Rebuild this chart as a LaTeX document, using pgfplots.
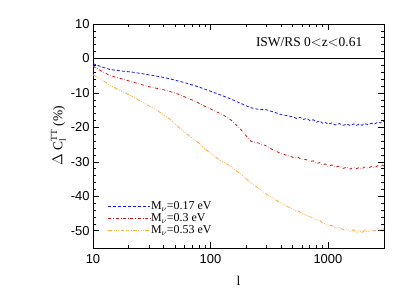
\documentclass[border=0pt]{standalone}
\usepackage{pgfplots}
\pgfplotsset{compat=1.18}
\usepackage{fontspec}
\setmainfont{Liberation Serif}
\newfontfamily\tickfont{Liberation Sans}
\definecolor{cblue}{RGB}{20,20,255}
\definecolor{cred}{RGB}{200,20,20}
\definecolor{corange}{RGB}{255,170,60}
\begin{document}
\begin{tikzpicture}
\useasboundingbox (0,0) rectangle (415bp,297bp);
\begin{axis}[
  at={(93bp,49bp)}, anchor=south west,
  scale only axis, width=291bp, height=224bp,
  xmode=log, xmin=10, xmax=3000, ymin=-55, ymax=10,
  xtick={10,100,1000}, xticklabels={10,100,1000},
  ytick={-50,-40,-30,-20,-10,0,10},
  minor y tick num=4,
  tick align=inside, tick pos=both,
  major tick length=6bp, minor tick length=3bp,
  axis line style={line width=0.8pt},
  every tick/.style={line width=0.6pt, black},
  /pgf/number format/assume math mode=true,
  tick label style={font=\tickfont\fontsize{13}{14}\selectfont},
  xticklabel style={yshift=-3bp},
  xlabel={l}, ylabel={$\Delta$ C$_{\mathrm{l}}^{\mathrm{TT}}$ (\%)},
  label style={font=\fontsize{13.5}{14}\selectfont},
  xlabel style={yshift=-6bp},
  ylabel style={yshift=-2bp},
  legend style={draw=none, fill=none, at={(0.05,0.052)}, anchor=south west,
    font=\fontsize{12}{12}\selectfont, row sep=1bp, inner sep=0pt,
    nodes={inner sep=0.5pt, text height=8bp, text depth=2bp}},
  legend cell align=left,
  legend image code/.code={\draw[#1] (0bp,0bp) -- (42bp,0bp);},
]
\addplot[black, line width=0.9pt, forget plot] coordinates {(10,0) (3000,0)};
\addplot[cblue, densely dashed, line width=0.8pt] coordinates {
(10,-1.5)(12,-2.5)(14,-3.2)(17,-3.6)(22,-4.0)(27,-4.5)(32,-4.9)(40,-5.5)(50,-6.3)(60,-7.0)(70,-7.7)(80,-8.3)(100,-9.5)(120,-10.5)(150,-11.8)(180,-13.0)(220,-14.3)(260,-14.8)(300,-14.9)(350,-15.6)(400,-16.3)(450,-16.6)
(500,-16.9)(540,-17.4)(580,-17.1)(620,-17.7)(660,-17.4)(700,-18.0)(750,-17.8)(800,-18.5)(850,-18.1)(900,-18.8)(950,-18.5)(1000,-19.1)(1080,-18.7)(1150,-19.3)(1250,-18.9)(1350,-19.4)(1450,-19.0)(1550,-19.5)(1650,-19.0)(1750,-19.4)(1850,-19.0)(1950,-19.4)(2050,-18.9)(2200,-19.2)(2350,-18.8)(2500,-19.0)(2650,-18.5)(2800,-18.7)(2900,-18.2)(3000,-18.4)};
\addlegendentry{M$_\nu$=0.17 eV}
\addplot[cred, dash dot, line width=0.8pt] coordinates {
(10,-2.2)(12,-3.8)(14,-5.0)(18,-6.0)(22,-6.9)(30,-8.2)(40,-9.1)(50,-10.0)(60,-11.1)(75,-12.5)(90,-13.9)(110,-15.3)(130,-16.5)(150,-17.9)(180,-20.5)(220,-24.0)(260,-24.6)(300,-25.4)(340,-26.5)(400,-27.6)
(480,-28.4)(520,-28.9)(560,-28.7)(600,-29.4)(650,-29.3)(700,-29.9)(750,-29.7)(800,-30.5)(850,-30.2)(900,-30.9)(950,-30.6)(1000,-31.3)(1080,-30.9)(1150,-31.6)(1250,-31.2)(1350,-31.9)(1450,-31.5)(1550,-32.1)(1650,-31.6)(1750,-32.0)(1850,-31.6)(1950,-32.0)(2050,-31.5)(2200,-31.9)(2350,-31.3)(2500,-31.7)(2650,-31.1)(2800,-31.5)(2900,-30.9)(3000,-31.2)};
\addlegendentry{M$_\nu$=0.3 eV}
\addplot[corange, dash pattern=on 4pt off 1.5pt on 0.8pt off 1.5pt on 0.8pt off 1.5pt on 0.8pt off 1.5pt, line width=0.8pt] coordinates {
(10,-4.7)(12,-6.3)(14,-7.8)(18,-9.7)(22,-11.2)(28,-13.2)(35,-15.0)(45,-17.6)(55,-20.3)(65,-22.3)(80,-24.6)(90,-26.3)(100,-27.5)(120,-29.5)(150,-31.4)(180,-33.5)(220,-36.1)(260,-37.8)(300,-39.4)(350,-40.8)(400,-42.0)
(480,-43.4)(520,-44.1)(560,-44.3)(600,-45.0)(650,-45.4)(700,-46.0)(750,-46.1)(800,-46.9)(850,-46.9)(900,-47.8)(950,-47.9)(1000,-48.6)(1080,-48.4)(1150,-49.2)(1250,-49.0)(1350,-49.7)(1450,-49.5)(1550,-50.2)(1650,-49.7)(1750,-50.4)(1850,-49.9)(1950,-50.5)(2050,-49.9)(2200,-50.3)(2350,-49.7)(2500,-50.1)(2650,-49.5)(2800,-49.9)(2900,-49.3)(3000,-49.6)};
\addlegendentry{M$_\nu$=0.53 eV}
\node[anchor=east, font=\fontsize{13.5}{14}\selectfont] at (axis cs:2100,4.7) {ISW/RS 0$<$z$<$0.61};
\end{axis}
\end{tikzpicture}
\end{document}
